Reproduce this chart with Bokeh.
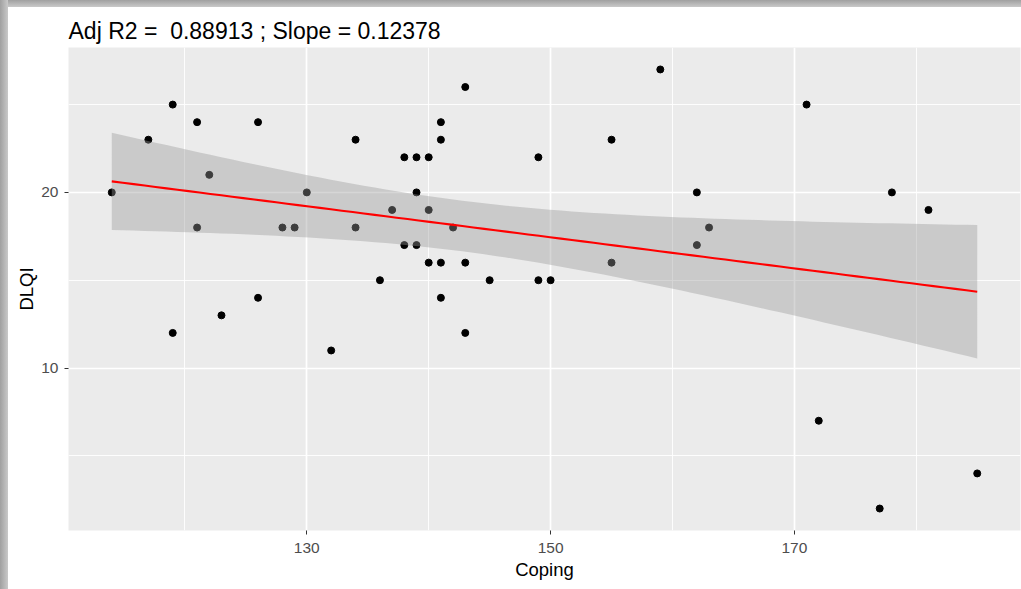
import numpy as np
from bokeh.plotting import figure
from bokeh.models import Range1d, FixedTicker, ColumnDataSource
from bokeh.embed import file_html
from bokeh.resources import INLINE

# ---- data ----
coping = [114, 117, 119, 119, 121, 121, 122, 123, 126, 126,
          128, 129, 130, 132, 134, 134, 136, 137, 138, 138,
          139, 139, 139, 140, 140, 140, 141, 141, 141, 141,
          142, 143, 143, 143, 145, 149, 149, 150, 155, 155,
          159, 162, 162, 163, 171, 172, 177, 178, 181, 185]
dlqi = [20, 23, 25, 12, 24, 18, 21, 13, 24, 14,
        18, 18, 20, 11, 23, 18, 15, 19, 22, 17,
        22, 20, 17, 22, 19, 16, 24, 23, 16, 14,
        18, 26, 16, 12, 15, 22, 15, 15, 23, 16,
        27, 20, 17, 18, 25, 7, 2, 20, 19, 4]
x_ticks = [130, 150, 170]
x_minor = [120, 140, 160, 180]
y_ticks = [10, 20]
y_minor = [5, 15, 25]
title_text = "Adj R2 =\u00a0 0.88913 ; Slope = 0.12378"
T975_DF48 = 2.0106  # Student t 97.5% quantile, df = n - 2 = 48

# ---- linear model with 95% confidence band (as geom_smooth(method="lm")) ----
x = np.array(coping, dtype=float)
y = np.array(dlqi, dtype=float)
n = len(x)
b1, b0 = np.polyfit(x, y, 1)
resid = y - (b0 + b1 * x)
s = np.sqrt(np.sum(resid ** 2) / (n - 2))
sxx = np.sum((x - x.mean()) ** 2)
xs = np.linspace(x.min(), x.max(), 80)
fit = b0 + b1 * xs
se = s * np.sqrt(1.0 / n + (xs - x.mean()) ** 2 / sxx)
upper = fit + T975_DF48 * se
lower = fit - T975_DF48 * se

def expand(lo, hi, f=0.05):
    d = (hi - lo) * f
    return lo - d, hi + d

xr = expand(x.min(), x.max())
yr = expand(y.min(), y.max())

FONT = "Liberation Sans"

p = figure(
    output_backend="svg", toolbar_location=None,
    frame_width=952, frame_height=483,
    min_border_left=68, min_border_right=1, min_border_top=47, min_border_bottom=59,
    x_range=Range1d(*xr), y_range=Range1d(*yr),
    background_fill_color="#ebebeb", border_fill_color=None,
    outline_line_color=None,
)
# screenshot drop-shadow along the top and left edges
p.stylesheets = [
    ":host { background:"
    " linear-gradient(to right, #a0a0a0, #c9c9c9) left top / 8px 100% no-repeat,"
    " linear-gradient(to bottom, #a0a0a0, #c9c9c9) left top / 100% 7px no-repeat,"
    " white; }"
]

p.title.text = title_text
p.title.text_font = FONT
p.title.text_font_size = "23px"
p.title.text_font_style = "normal"
p.title.text_color = "black"
p.title.align = "left"
p.title.standoff = 7

for ax, label, tk, mn in ((p.xaxis[0], "Coping", x_ticks, x_minor),
                          (p.yaxis[0], "DLQI", y_ticks, y_minor)):
    ax.ticker = FixedTicker(ticks=tk, minor_ticks=mn)
    ax.axis_label = label
    ax.axis_label_text_font = FONT
    ax.axis_label_text_font_size = "18.5px"
    ax.axis_label_text_font_style = "normal"
    ax.axis_label_text_color = "black"
    ax.axis_line_color = None
    ax.major_tick_line_color = "#333333"
    ax.major_tick_line_width = 1
    ax.major_tick_out = 4
    ax.major_tick_in = 0
    ax.minor_tick_line_color = None
    ax.major_label_text_font = FONT
    ax.major_label_text_font_size = "15.5px"
    ax.major_label_text_color = "#4d4d4d"

p.xaxis[0].major_label_standoff = 8
p.xaxis[0].axis_label_standoff = 3
p.yaxis[0].major_label_standoff = 6
p.yaxis[0].axis_label_standoff = 1

for g in (p.xgrid[0], p.ygrid[0]):
    g.grid_line_color = "white"
    g.grid_line_width = 1.7
    g.minor_grid_line_color = "white"
    g.minor_grid_line_width = 0.9

pts = ColumnDataSource(dict(x=coping, y=dlqi))
p.scatter("x", "y", source=pts, size=7, color="black")

band = ColumnDataSource(dict(x=xs, lower=lower, upper=upper, fit=fit))
p.varea(x="x", y1="lower", y2="upper", source=band, fill_color="#999999", fill_alpha=0.4)
p.line(x="x", y="fit", source=band, line_color="red", line_width=2.1)

open("out.html", "w").write(file_html(p, INLINE))
